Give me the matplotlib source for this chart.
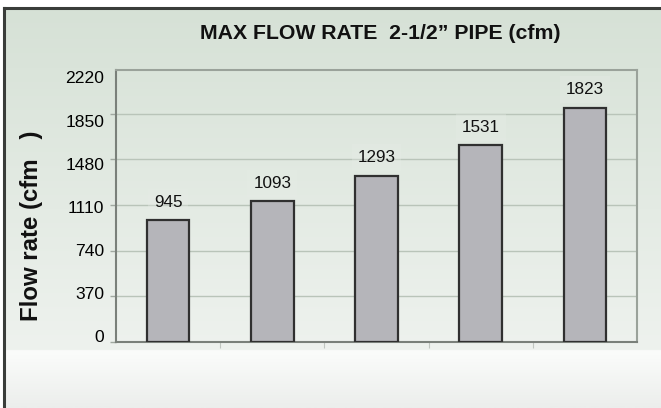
import matplotlib.pyplot as plt
import matplotlib.colors as mcolors
import numpy as np

# datos
caudal = [945, 1093, 1293, 1531, 1823]
etiquetas_y = ['0', '370', '740', '1110', '1480', '1850', '2220']
paso_grid = 355
titulo = 'MAX FLOW RATE  2-1/2\u201d PIPE (cfm)'
ylabel = 'Flow rate (cfm   )'

fig = plt.figure(figsize=(6.61, 4.08), dpi=100)
fig.patch.set_facecolor('white')

# fondo con degradado
fondo = fig.add_axes([4 / 661, 0, 1 - 4 / 661, 1 - 7 / 408])
fondo.set_axis_off()
cmap = mcolors.LinearSegmentedColormap.from_list(
    'fondo',
    [(0.0, '#d6e1d6'), (0.15, '#dae4da'), (0.855, '#eef2ee'),
     (0.86, '#fbfcfb'), (1.0, '#eceeec')])
grad = np.linspace(0, 1, 400).reshape(-1, 1)
fondo.imshow(grad, aspect='auto', cmap=cmap, extent=[0, 1, 0, 1], origin='upper')
fondo.set_xlim(0, 1)
fondo.set_ylim(0, 1)
# borde oscuro arriba e izquierda
fig.add_artist(plt.Line2D([4 / 661, 1], [1 - 7.5 / 408, 1 - 7.5 / 408],
                          color='#3a3d3a', lw=2.2))
fig.add_artist(plt.Line2D([4 / 661, 4 / 661], [0, 1 - 7.5 / 408],
                          color='#3a3d3a', lw=2.2))

ax = fig.add_axes([116 / 661, 1 - 342 / 408, 521 / 661, 272 / 408])
ax.set_facecolor('none')

x = np.arange(len(caudal))
bars = ax.bar(x, caudal, width=0.41, color='#b5b5ba', edgecolor='#303030',
              linewidth=1.6, zorder=3)

ax.set_xlim(-0.5, len(caudal) - 0.5)
ax.set_ylim(0, 2115)

# lineas de grilla
grid_vals = np.arange(0, 2115, paso_grid)
ax.set_yticks(grid_vals)
ax.set_yticklabels([])
ax.grid(axis='y', color='#b9c4b9', lw=1, zorder=0)
ax.tick_params(axis='y', which='major', length=4, color='#a0a8a0', width=1)

# etiquetas del eje y (desplazadas como en la imagen)
pos_etq = [47 + i * 335 for i in range(len(etiquetas_y))]
ax.set_yticks(pos_etq, etiquetas_y, minor=True)
ax.tick_params(axis='y', which='minor', length=0, pad=8.5, labelsize=12.6)
for t in ax.get_yticklabels(minor=True):
    t.set_family(['Liberation Sans', 'DejaVu Sans'])

ax.set_xticks([0.5, 1.5, 2.5, 3.5])
ax.set_xticklabels([])
ax.tick_params(axis='x', length=4, color='#c0c6c0', direction='out')

for lado in ['top', 'right']:
    ax.spines[lado].set_color('#9aa29a')
    ax.spines[lado].set_linewidth(1.5)
ax.spines['left'].set_color('#7a807a')
ax.spines['left'].set_linewidth(1.5)
ax.spines['bottom'].set_color('#7a807a')
ax.spines['bottom'].set_linewidth(1.5)

for b, v in zip(bars, caudal):
    ax.annotate(str(v), (b.get_x() + b.get_width() / 2, v),
                xytext=(0, 9.6), textcoords='offset points',
                ha='center', va='baseline', fontsize=12.3,
                family=['Liberation Sans', 'DejaVu Sans'],
                color='#111111',
                bbox=dict(boxstyle='square,pad=0.35', fc='#e6ece6', ec='none', alpha=0.35))

fig.text(380 / 661, 1 - 39 / 408, titulo, ha='center', va='baseline',
         fontsize=15.3, fontweight='bold', family=['Liberation Sans', 'DejaVu Sans'],
         color='#111111')
fig.text(32 / 661, 1 - 226 / 408, ylabel, rotation=90, ha='center', va='center',
         fontsize=17.3, fontweight='bold', family=['Liberation Sans', 'DejaVu Sans'],
         color='#111111')

plt.savefig('out.png', dpi=100)
